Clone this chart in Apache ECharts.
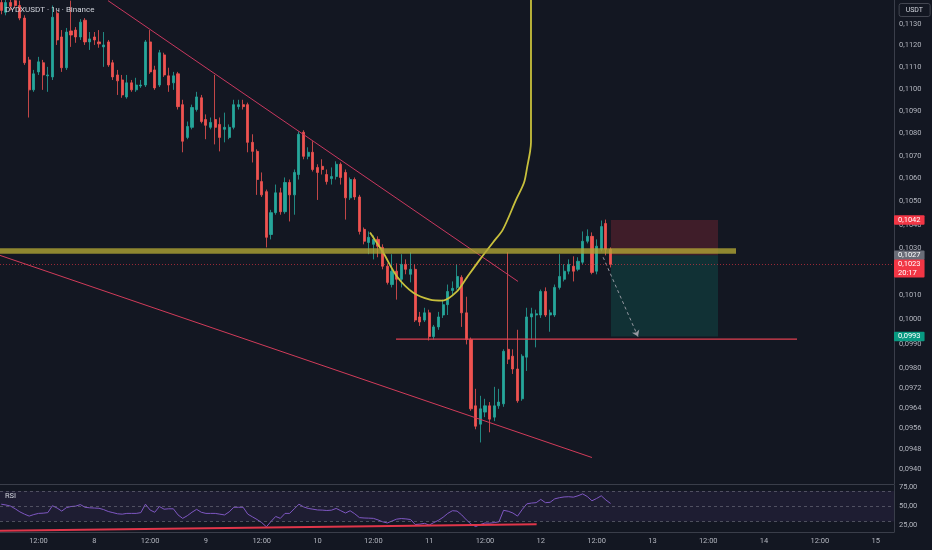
<!DOCTYPE html>
<html><head><meta charset="utf-8">
<script src="https://cdn.jsdelivr.net/npm/echarts@6/dist/echarts.min.js"></script>
<style>html,body{margin:0;padding:0;background:#131722;}#c{width:932px;height:550px;}</style>
</head><body><div id="c"></div>
<script>
// ---------- DATA ----------
const chartTitle = 'DYDXUSDT · 1ч · Binance';
const quoteCurrency = 'USDT';
const countdownText = '20:17';
// hourly candles, first candle = 7th 04:00 (hours counted from 8th 00:00)
const startHour = -20;
const opens = [
 0.11400,0.11354,0.11400,0.11409,0.11386,0.11327,0.11133,0.10996,0.11078,0.11120,0.11060,0.11055,
 0.11350,0.11239,0.11097,0.11267,0.11271,0.11239,0.11317,0.11216,0.11239,0.11216,0.11193,0.11216,
 0.11120,0.11064,0.11041,0.10964,0.11028,0.10996,0.11014,0.11018,0.11216,0.11087,0.11018,0.11156,
 0.11060,0.11028,0.11069,0.10929,0.10782,0.10827,0.10907,0.10960,0.10862,0.10827,0.10862,0.10840,
 0.10818,0.10782,0.10827,0.10920,0.10929,0.10929,0.10760,0.10720,0.10587,0.10543,0.10358,0.10452,
 0.10538,0.10456,0.10583,0.10529,0.10618,0.10805,0.10698,0.10716,0.10649,0.10654,0.10618,0.10600,
 0.10609,0.10663,0.10627,0.10516,0.10596,0.10520,0.10380,0.10324,0.10316,0.10337,0.10303,0.10223,
 0.10146,0.10202,0.10168,0.10231,0.10189,0.10210,0.10011,0.09998,0.10028,0.09930,0.09970,0.10019,
 0.10062,0.10121,0.10134,0.10176,0.10028,0.09918,0.09650,0.09577,0.09625,0.09650,0.09605,0.09650,
 0.09658,0.09878,0.09850,0.09798,0.09678,0.09846,0.10011,0.10019,0.10019,0.10117,0.10019,0.10019,
 0.10134,0.10168,0.10202,0.10223,0.10210,0.10240,0.10329,0.10350,0.10202,0.10295,0.10405,0.10295];
const closes = [
 0.11363,0.11400,0.11382,0.11386,0.11327,0.11120,0.10996,0.11069,0.11124,0.11064,0.11064,0.11331,
 0.11225,0.11097,0.11262,0.11248,0.11239,0.11308,0.11216,0.11230,0.11225,0.11207,0.11202,0.11110,
 0.11055,0.11037,0.10973,0.11028,0.10996,0.11018,0.11018,0.11216,0.11078,0.11005,0.11166,0.11064,
 0.11018,0.11060,0.10920,0.10765,0.10831,0.10916,0.10964,0.10853,0.10836,0.10849,0.10827,0.10782,
 0.10827,0.10827,0.10929,0.10929,0.10920,0.10760,0.10720,0.10596,0.10529,0.10346,0.10452,0.10538,
 0.10456,0.10583,0.10529,0.10627,0.10796,0.10698,0.10716,0.10640,0.10627,0.10640,0.10587,0.10609,
 0.10663,0.10605,0.10516,0.10596,0.10520,0.10371,0.10329,0.10346,0.10337,0.10308,0.10223,0.10155,
 0.10202,0.10168,0.10231,0.10210,0.10210,0.09998,0.09990,0.10028,0.09930,0.09970,0.10011,0.10062,
 0.10117,0.10130,0.10180,0.10028,0.09918,0.09638,0.09569,0.09638,0.09650,0.09597,0.09650,0.09665,
 0.09870,0.09838,0.09798,0.09670,0.09850,0.10011,0.10024,0.10024,0.10117,0.10019,0.10028,0.10134,
 0.10180,0.10202,0.10231,0.10202,0.10244,0.10329,0.10350,0.10197,0.10308,0.10392,0.10295,0.10231];
const lows = [
 0.11345,0.11340,0.11363,0.11373,0.11317,0.11110,0.10871,0.10987,0.11064,0.10996,0.10987,0.11041,
 0.11202,0.11078,0.11087,0.11193,0.11212,0.11225,0.11202,0.11179,0.11202,0.11189,0.11101,0.11101,
 0.11041,0.10973,0.10960,0.10956,0.10987,0.10987,0.11005,0.11009,0.11069,0.10996,0.11009,0.11055,
 0.10987,0.10996,0.10907,0.10716,0.10774,0.10818,0.10898,0.10845,0.10774,0.10818,0.10751,0.10720,
 0.10760,0.10774,0.10818,0.10907,0.10907,0.10716,0.10671,0.10529,0.10520,0.10303,0.10337,0.10443,
 0.10443,0.10447,0.10414,0.10443,0.10596,0.10685,0.10685,0.10631,0.10507,0.10618,0.10574,0.10574,
 0.10596,0.10574,0.10422,0.10507,0.10507,0.10358,0.10316,0.10274,0.10252,0.10261,0.10210,0.10146,
 0.10134,0.10083,0.10134,0.10189,0.10155,0.09990,0.09974,0.09990,0.09914,0.09918,0.09958,0.10007,
 0.10019,0.10100,0.10125,0.09970,0.09898,0.09630,0.09557,0.09505,0.09605,0.09545,0.09589,0.09638,
 0.09646,0.09818,0.09778,0.09662,0.09670,0.09790,0.09918,0.09886,0.10007,0.10011,0.09950,0.10011,
 0.10125,0.10159,0.10189,0.10159,0.10202,0.10231,0.10320,0.10189,0.10189,0.10286,0.10269,0.10218];
const highs = [
 0.11430,0.11420,0.11420,0.11430,0.11409,0.11340,0.11147,0.11087,0.11147,0.11133,0.11101,0.11386,
 0.11363,0.11271,0.11281,0.11409,0.11285,0.11322,0.11327,0.11262,0.11262,0.11271,0.11262,0.11225,
 0.11133,0.11087,0.11064,0.11064,0.11041,0.11051,0.11041,0.11225,0.11271,0.11106,0.11179,0.11166,
 0.11097,0.11078,0.11078,0.10951,0.10853,0.10929,0.10987,0.10973,0.10885,0.10871,0.11064,0.10871,
 0.10893,0.10840,0.10951,0.10951,0.10951,0.10938,0.10796,0.10729,0.10627,0.10552,0.10464,0.10574,
 0.10560,0.10605,0.10596,0.10640,0.10809,0.10814,0.10738,0.10765,0.10663,0.10685,0.10640,0.10649,
 0.10676,0.10671,0.10640,0.10605,0.10605,0.10529,0.10388,0.10371,0.10354,0.10350,0.10316,0.10235,
 0.10274,0.10235,0.10274,0.10252,0.10282,0.10231,0.10032,0.10049,0.10041,0.09978,0.10032,0.10083,
 0.10146,0.10159,0.10231,0.10185,0.10095,0.09926,0.09718,0.09690,0.09678,0.09665,0.09726,0.09718,
 0.09878,0.10282,0.09878,0.09958,0.09858,0.10049,0.10049,0.10041,0.10125,0.10134,0.10041,0.10146,
 0.10274,0.10231,0.10252,0.10265,0.10261,0.10371,0.10380,0.10367,0.10337,0.10418,0.10422,0.10303];
const rsiValues = [
 52.7,51.7,50.2,46.7,42.7,39.7,37.2,39.2,40.7,41.0,41.7,50.7,
 47.7,43.7,48.2,49.7,50.2,52.2,48.7,48.0,47.7,47.4,45.7,43.2,
 41.7,40.2,39.7,40.7,40.7,40.7,41.7,52.7,45.1,42.2,49.7,46.2,
 46.7,46.7,38.7,34.2,37.7,42.2,46.0,42.2,40.7,40.7,40.7,39.7,
 38.7,42.7,48.7,48.7,48.7,39.7,36.2,32.7,28.7,23.2,30.2,36.7,
 34.2,40.7,40.7,46.7,52.7,49.2,47.2,46.2,45.2,45.0,44.5,44.9,
 47.2,44.2,41.2,44.2,40.2,35.2,34.7,34.5,34.2,32.2,29.7,28.2,
 30.7,33.2,34.0,33.5,32.7,26.2,26.7,27.7,25.5,28.7,31.7,35.7,
 40.7,44.2,43.7,38.7,32.2,26.7,23.5,26.2,28.2,27.9,28.7,29.7,
 44.7,43.5,41.2,37.2,45.7,53.2,54.2,54.7,59.0,54.7,55.2,59.7,
 61.2,62.2,62.5,61.9,63.7,66.2,62.7,57.2,60.2,63.7,58.2,53.7];
const rsiBands = [70, 50, 30];
// axis ticks
const priceTicks = [0.0940,0.0948,0.0956,0.0964,0.0972,0.0980,0.0990,0.1000,0.1010,0.1020,0.1030,0.1040,0.1050,0.1060,0.1070,0.1080,0.1090,0.1100,0.1110,0.1120,0.1130];
const rsiTicks = [25, 50, 75];
const xTickHours = [-12,0,12,24,36,48,60,72,84,96,108,120,132,144,156,168];
const xTickLabels = ['12:00','8','12:00','9','12:00','10','12:00','11','12:00','12','12:00','13','12:00','14','12:00','15'];
// visible ranges
const hourRange = [-20.275, 171.94];
const priceRange = [0.093432, 0.11412];
const rsiRange = [16.4, 77.8];
// drawings (hour, price)
const upperTrend = [[2.95, 0.11409], [91.1, 0.10159]];
const lowerTrend = [[-20.275, 0.10269], [107.0, 0.09446]];
const bandLine = [[-20.275, 0.10288], [137.97, 0.10288]];
const supportLine = [[64.87, 0.09920], [151.09, 0.09920]];
const arcHours  = [59.28, 62.07, 65.08, 68.52, 72.18, 74.97, 77.98, 80.13, 82.93, 85.72, 87.87, 90.67, 92.40, 93.10, 93.70, 93.89, 93.89, 93.89, 93.89];
const arcPrices = [0.10367,0.10282,0.10180,0.10113,0.10083,0.10079,0.10117,0.10176,0.10252,0.10324,0.10380,0.10507,0.10583,0.10654,0.10720,0.10760,0.11000,0.11409,0.11600];
const rsiTrend = [[-20.275, 18.1], [95.1, 26.5]];
// short position tool
const posStart = 111.08, posEnd = 134.1;
const stopLevel = 0.1042, entryLevel = 0.1027, targetLevel = 0.0993;
const arrowFrom = [109.4, 0.10261], arrowTo = [116.9, 0.0993];

// ---------- CHART ----------
const FONT = 'Roboto, "Noto Sans", sans-serif';
const TXT = '#b2b5be';
const SEP = '#3a3e4a';
const UP = '#26a69a', DOWN = '#ef5350';
const CLEAR = 'rgba(0,0,0,0)';
const fmtPrice = v => Number(v).toFixed(4).replace('.', ',');
const candleData = opens.map((o, i) => [startHour + i, o, closes[i], lows[i], highs[i]]);
const rsiData = rsiValues.map((v, i) => [startHour + i, v]);
const arcData = arcHours.map((h, i) => [h, arcPrices[i]]);
const lastClose = closes[closes.length - 1];

function drawLine(points, color, width, extra) {
  return Object.assign({
    type: 'line', xAxisIndex: 0, yAxisIndex: 0, data: points, showSymbol: false, symbol: 'none',
    silent: true, clip: true, z: 4, lineStyle: { color: color, width: width }
  }, extra || {});
}
const boxLabel = (bg, text) => ({
  show: true, position: 'end', distance: 0, color: '#ffffff', fontSize: 7.5, fontFamily: FONT,
  backgroundColor: bg, padding: [1, 4, 0, 4], lineHeight: 8.5, borderRadius: 1, opacity: 1,
  formatter: text
});
const axisLineStyle = { show: true, onZero: false, lineStyle: { color: SEP } };

const chart = echarts.init(document.getElementById('c'));
chart.setOption({
  backgroundColor: '#131722',
  animation: false,
  textStyle: { fontFamily: FONT },
  title: [
    { text: chartTitle, left: 5, top: 6, padding: 0, textStyle: { color: '#d1d4dc', fontSize: 8, fontWeight: 'normal', fontFamily: FONT } },
    { text: 'RSI', left: 5, top: 492, padding: 0, textStyle: { color: '#d1d4dc', fontSize: 7.5, fontWeight: 'normal', fontFamily: FONT } },
    { text: quoteCurrency, right: 2, top: 3, backgroundColor: '#131722', borderColor: '#434651', borderWidth: 1, borderRadius: 2,
      padding: [4, 7, 3, 7], textStyle: { color: '#d1d4dc', fontSize: 7, fontWeight: 'normal', fontFamily: FONT } }
  ],
  grid: [
    { left: 0, right: 38, top: 0, height: 484 },
    { left: 0, right: 38, top: 485, height: 47 }
  ],
  xAxis: [
    { type: 'value', gridIndex: 0, min: hourRange[0], max: hourRange[1],
      axisLine: axisLineStyle, axisTick: { show: false }, axisLabel: { show: false }, splitLine: { show: false } },
    { type: 'value', gridIndex: 1, min: hourRange[0], max: hourRange[1],
      axisLine: axisLineStyle, axisTick: { show: false }, splitLine: { show: false },
      axisLabel: { customValues: xTickHours, formatter: v => xTickLabels[xTickHours.indexOf(Math.round(v))], color: TXT, fontSize: 7.5, margin: 5, fontFamily: FONT } }
  ],
  yAxis: [
    { type: 'log', gridIndex: 0, min: priceRange[0], max: priceRange[1], position: 'right',
      axisLine: axisLineStyle, axisTick: { show: false }, splitLine: { show: false },
      axisLabel: { customValues: priceTicks, formatter: fmtPrice, color: TXT, fontSize: 7.5, margin: 5, fontFamily: FONT } },
    { type: 'value', gridIndex: 1, min: rsiRange[0], max: rsiRange[1], position: 'right',
      axisLine: axisLineStyle, axisTick: { show: false }, splitLine: { show: false },
      axisLabel: { customValues: rsiTicks, formatter: v => Number(v).toFixed(2).replace('.', ','), color: TXT, fontSize: 7.5, margin: 5, fontFamily: FONT } }
  ],
  series: [
    // RSI pane
    { type: 'line', xAxisIndex: 1, yAxisIndex: 1, data: rsiData, showSymbol: false, symbol: 'none', silent: true,
      lineStyle: { color: '#7e57c2', width: 1 }, z: 3,
      markArea: { silent: true, itemStyle: { color: 'rgba(126,87,194,0.1)' },
        data: [[{ yAxis: rsiBands[0] }, { yAxis: rsiBands[2] }]] },
      markLine: { silent: true, symbol: 'none', label: { show: false },
        lineStyle: { color: '#787b86', type: [3, 3], width: 0.8, opacity: 0.7 },
        data: rsiBands.map(v => ({ yAxis: v })) } },
    { type: 'line', xAxisIndex: 1, yAxisIndex: 1, data: rsiTrend, showSymbol: false, symbol: 'none', silent: true,
      lineStyle: { color: '#e0364a', width: 2 }, z: 4 },
    // position tool
    { type: 'line', xAxisIndex: 0, yAxisIndex: 0, data: [], silent: true, z: 1,
      markArea: { silent: true, data: [
        [{ coord: [posStart, stopLevel], itemStyle: { color: 'rgba(242,54,69,0.2)' } }, { coord: [posEnd, entryLevel] }],
        [{ coord: [posStart, entryLevel], itemStyle: { color: 'rgba(8,153,129,0.2)' } }, { coord: [posEnd, targetLevel] }]
      ] },
      markLine: { silent: true, symbol: ['none', 'arrow'], symbolSize: 6, label: { show: false },
        lineStyle: { color: '#9598a1', type: [3, 3], width: 1 },
        data: [[{ coord: arrowFrom }, { coord: arrowTo }]] } },
    // candles
    { type: 'candlestick', xAxisIndex: 0, yAxisIndex: 0, data: candleData, barWidth: 2.6, silent: true, z: 2,
      itemStyle: { color: UP, color0: DOWN, borderColor: UP, borderColor0: DOWN, borderWidth: 0.8 } },
    // trend lines and drawings
    drawLine(upperTrend, '#c9385f', 1),
    drawLine(lowerTrend, '#d23c5a', 1),
    drawLine(supportLine, '#e04050', 1.2),
    drawLine(bandLine, 'rgba(178,166,52,0.78)', 5.5, { z: 5 }),
    drawLine(arcData, '#c8c03c', 1.8, { smooth: 0.3 }),
    // price labels on the axis
    { type: 'line', xAxisIndex: 0, yAxisIndex: 0, data: [], silent: true, clip: false, z: 6,
      markLine: { silent: true, symbol: 'none', precision: 4,
        data: [
          { yAxis: stopLevel, lineStyle: { color: CLEAR, width: 1 }, label: boxLabel('#f23645', p => fmtPrice(p.value)) },
          { yAxis: entryLevel, lineStyle: { color: CLEAR, width: 1 }, label: boxLabel('#6a6d78', p => fmtPrice(p.value)) },
          { yAxis: lastClose, lineStyle: { color: 'rgba(242,54,69,0.6)', type: [1, 2], width: 1 },
            label: Object.assign(boxLabel('#f23645', p => fmtPrice(p.value) + '\n' + countdownText), { offset: [0, 4] }) },
          { yAxis: targetLevel, lineStyle: { color: CLEAR, width: 1 }, label: boxLabel('#089981', p => fmtPrice(p.value)) }
        ] } }
  ]
});
</script></body></html>
